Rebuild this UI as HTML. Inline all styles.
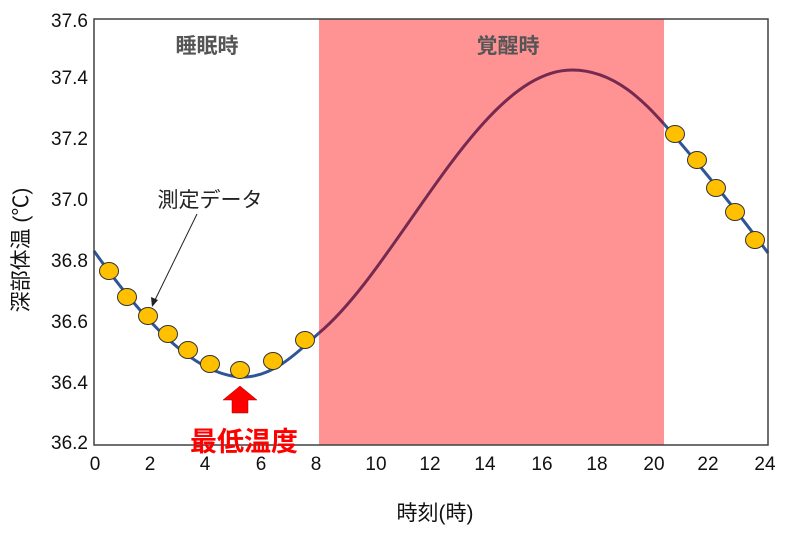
<!DOCTYPE html>
<html><head><meta charset="utf-8"><style>body{margin:0;background:#fff}svg{display:block}</style></head><body>
<svg width="800" height="542" xmlns="http://www.w3.org/2000/svg" font-family="'Liberation Sans','Noto Sans CJK JP',sans-serif">
<rect x="319" y="19" width="345" height="426" fill="#ff9393"/>
<path d="M94,251 C150,330 200,378 245,377 C275,376 300,350 319,333" fill="none" stroke="#2f5597" stroke-width="3"/>
<path d="M319,333 C400,265 480,70 572,70 C615,70 645,103 664,124" fill="none" stroke="#762a50" stroke-width="3"/>
<path d="M664,124 C700,165 740,215 768,253" fill="none" stroke="#2f5597" stroke-width="3"/>
<rect x="94" y="19" width="674" height="426" fill="none" stroke="#404040" stroke-width="1.5"/>
<g fill="#ffc000" stroke="#333" stroke-width="1">
<ellipse cx="109" cy="271" rx="9.5" ry="8.5"/><ellipse cx="127" cy="297" rx="9.5" ry="8.5"/><ellipse cx="148" cy="316" rx="9.5" ry="8.5"/><ellipse cx="168" cy="334" rx="9.5" ry="8.5"/><ellipse cx="188" cy="350" rx="9.5" ry="8.5"/><ellipse cx="210" cy="364" rx="9.5" ry="8.5"/><ellipse cx="240" cy="370" rx="9.5" ry="8.5"/><ellipse cx="273" cy="361" rx="9.5" ry="8.5"/><ellipse cx="305" cy="340" rx="9.5" ry="8.5"/>
<ellipse cx="675" cy="134" rx="9.5" ry="8.5"/><ellipse cx="697" cy="160" rx="9.5" ry="8.5"/><ellipse cx="716" cy="188" rx="9.5" ry="8.5"/><ellipse cx="735" cy="212" rx="9.5" ry="8.5"/><ellipse cx="755" cy="240" rx="9.5" ry="8.5"/>
</g>
<g font-size="19" fill="#111" text-anchor="end">
<text x="88" y="27">37.6</text><text x="88" y="84">37.4</text><text x="88" y="145">37.2</text><text x="88" y="206">37.0</text><text x="88" y="267">36.8</text><text x="88" y="328">36.6</text><text x="88" y="389">36.4</text><text x="88" y="449">36.2</text>
</g>
<g font-size="19" fill="#111" text-anchor="middle">
<text x="95" y="470">0</text><text x="150" y="470">2</text><text x="205" y="470">4</text><text x="261" y="470">6</text><text x="316" y="470">8</text><text x="376" y="470">10</text><text x="430" y="470">12</text><text x="485" y="470">14</text><text x="542" y="470">16</text><text x="597" y="470">18</text><text x="654" y="470">20</text><text x="708" y="470">22</text><text x="765" y="470">24</text>
</g>
<text x="435" y="520" font-size="21" text-anchor="middle" fill="#111">時刻(時)</text>
<text transform="translate(28,250) rotate(-90)" font-size="21" text-anchor="middle" fill="#111">深部体温 (℃)</text>
<text x="207" y="53" font-size="21" font-weight="bold" fill="#555" text-anchor="middle">睡眠時</text>
<text x="508" y="53" font-size="21" font-weight="bold" fill="#555" text-anchor="middle">覚醒時</text>
<text x="210" y="207" font-size="21" fill="#222" text-anchor="middle">測定データ</text>
<line x1="197" y1="214" x2="155" y2="300" stroke="#222" stroke-width="1"/>
<polygon points="152,307 151,297 158,300" fill="#222"/>
<polygon points="240,386 257,400 248,400 248,413 232,413 232,400 223,400" fill="#f00" stroke="#900" stroke-width="0.5"/>
<text x="244" y="451" font-size="27" font-weight="bold" fill="#f00" text-anchor="middle">最低温度</text>
</svg>
</body></html>
